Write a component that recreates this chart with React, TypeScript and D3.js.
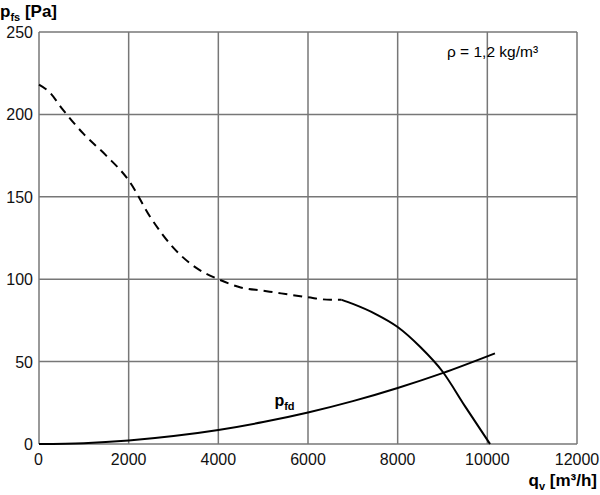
import { useEffect, useRef } from 'react';
import * as d3 from 'd3';

// fan curve, dashed part (unstable region)
const dashQ = [0, 250, 500, 1000, 1500, 2000, 2500, 3000, 3500, 4000, 4500, 5000, 5500, 6000, 6500, 6750];
const dashP = [218, 213, 204, 188, 175, 160, 137, 119, 107, 100, 95, 93, 91, 89, 87.5, 87.5];
// fan curve, solid part
const solidQ = [6750, 7000, 7500, 8000, 8500, 9000, 9500, 10060];
const solidP = [87.5, 85, 79, 71, 59, 44, 23, 0];
// dynamic pressure p_fd
const fdQ = [0, 1000, 2000, 3000, 4000, 5000, 6000, 7000, 8000, 9000, 10170];
const fdP = [0, 0.5, 2.1, 4.8, 8.5, 13.3, 19.1, 26, 34, 43, 55];

const xTicks = [0, 2000, 4000, 6000, 8000, 10000, 12000];
const yTicks = [0, 50, 100, 150, 200, 250];

const App = () => {
  const ref = useRef(null);

  useEffect(() => {
    const margin = { top: 32, right: 23, bottom: 51, left: 39 };
    const W = 600, H = 495;
    const width = W - margin.left - margin.right;
    const height = H - margin.top - margin.bottom;

    d3.select(ref.current).selectAll('*').remove();
    const svg = d3.select(ref.current)
      .append('svg')
      .attr('width', W)
      .attr('height', H)
      .style('position', 'absolute')
      .style('left', 0)
      .style('top', 0)
      .style('font-family', 'Liberation Sans, Arial, sans-serif');

    const g = svg.append('g').attr('transform', `translate(${margin.left},${margin.top})`);

    const x = d3.scaleLinear().domain([0, 12000]).range([0, width]);
    const y = d3.scaleLinear().domain([0, 250]).range([height, 0]);

    // grid
    g.selectAll('.vg').data(xTicks).enter().append('line')
      .attr('x1', d => x(d)).attr('x2', d => x(d))
      .attr('y1', 0).attr('y2', height)
      .attr('stroke', '#777').attr('stroke-width', 1.5);
    g.selectAll('.hg').data(yTicks).enter().append('line')
      .attr('y1', d => y(d)).attr('y2', d => y(d))
      .attr('x1', 0).attr('x2', width)
      .attr('stroke', '#777').attr('stroke-width', 1.5);

    // tick labels
    g.selectAll('.xt').data(xTicks).enter().append('text')
      .attr('x', d => x(d)).attr('y', height + 21)
      .attr('text-anchor', (d, i) => (i === 0 ? 'start' : 'middle'))
      .attr('dx', (d, i) => (i === 0 ? -5 : 0))
      .attr('font-size', 16).attr('fill', '#111')
      .text(d => d);
    g.selectAll('.yt').data(yTicks).enter().append('text')
      .attr('x', -6).attr('y', d => y(d) + 6)
      .attr('text-anchor', 'end')
      .attr('font-size', 16).attr('fill', '#111')
      .text(d => d);

    const line = d3.line().curve(d3.curveMonotoneX).x(d => x(d[0])).y(d => y(d[1]));

    g.append('path')
      .datum(dashQ.map((q, i) => [q, dashP[i]]))
      .attr('fill', 'none').attr('stroke', '#000').attr('stroke-width', 2)
      .attr('stroke-dasharray', '9,6')
      .attr('d', line);
    g.append('path')
      .datum(solidQ.map((q, i) => [q, solidP[i]]))
      .attr('fill', 'none').attr('stroke', '#000').attr('stroke-width', 2)
      .attr('d', line);
    g.append('path')
      .datum(fdQ.map((q, i) => [q, fdP[i]]))
      .attr('fill', 'none').attr('stroke', '#000').attr('stroke-width', 2)
      .attr('d', line);

    // p_fd label
    const fd = g.append('text').attr('x', x(5250)).attr('y', y(23)).attr('font-size', 16)
      .attr('font-weight', 'bold').attr('fill', '#000');
    fd.append('tspan').text('p');
    fd.append('tspan').attr('font-size', 11).attr('dy', 4).text('fd');

    // axis titles
    const yl = svg.append('text').attr('x', 0).attr('y', 17).attr('font-size', 17)
      .attr('font-weight', 'bold').attr('fill', '#000');
    yl.append('tspan').text('p');
    yl.append('tspan').attr('font-size', 11).attr('dy', 4).text('fs');
    yl.append('tspan').attr('dy', -4).text(' [Pa]');

    const xl = svg.append('text').attr('x', 597).attr('y', 486).attr('font-size', 17)
      .attr('text-anchor', 'end').attr('font-weight', 'bold').attr('fill', '#000');
    xl.append('tspan').text('q');
    xl.append('tspan').attr('font-size', 11).attr('dy', 4).text('v');
    xl.append('tspan').attr('dy', -4).text(' [m³/h]');

    svg.append('text').attr('x', 447).attr('y', 57).attr('font-size', 15.5)
      .attr('fill', '#000').text('ρ = 1,2 kg/m³');
  }, []);

  return <div ref={ref}></div>;
};

export default App;
